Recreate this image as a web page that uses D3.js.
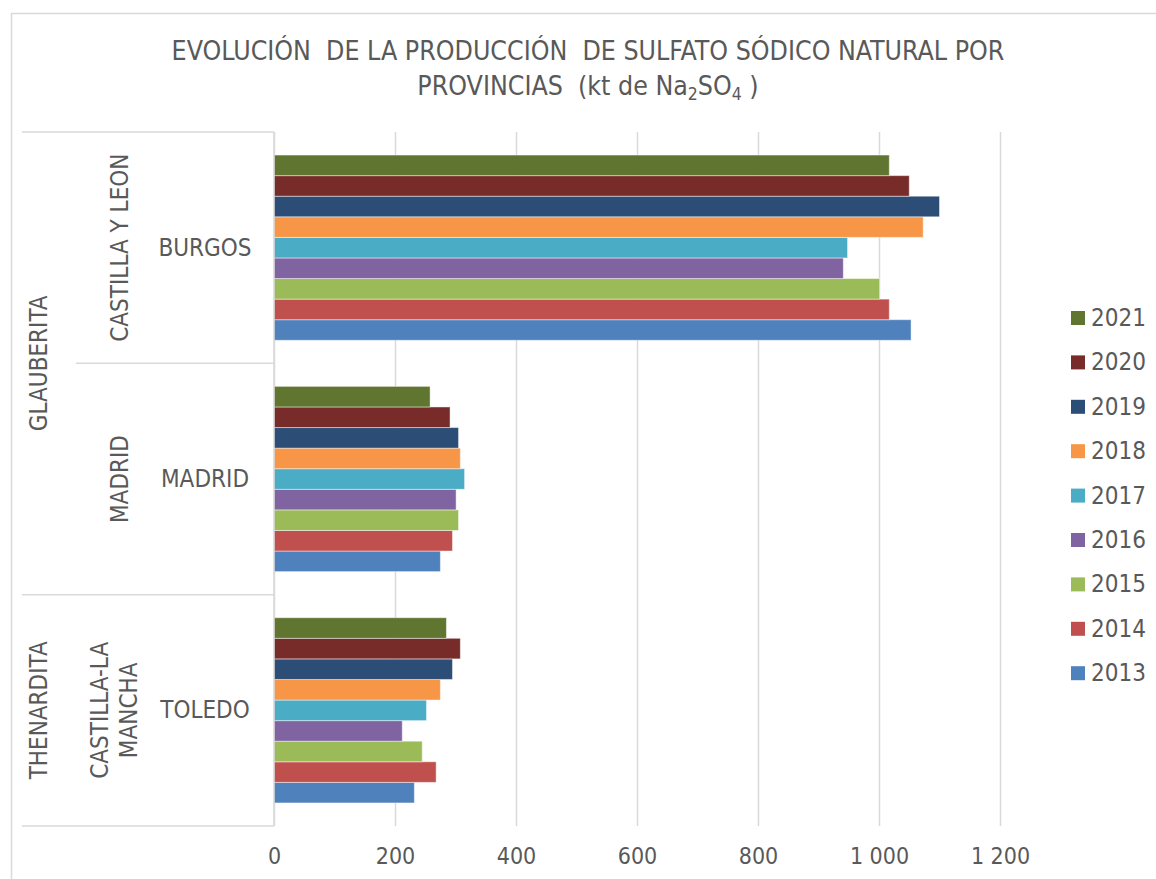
<!DOCTYPE html>
<html>
<head>
  <meta charset="utf-8">
  <title>Sulfato sódico natural</title>
  <style>
    body { margin: 0; background: #ffffff; }
    text { font-family: "DejaVu Sans Condensed", "DejaVu Sans", sans-serif; fill: #595959; }
  </style>
</head>
<body>
  <svg></svg>
  <script src="https://cdnjs.cloudflare.com/ajax/libs/d3/7.8.5/d3.min.js"></script>
  <script>
    // data (kt de Na2SO4)
    var years = ["2013", "2014", "2015", "2016", "2017", "2018", "2019", "2020", "2021"];
    var provinces = ["BURGOS", "MADRID", "TOLEDO"];
    var regions = ["CASTILLA Y LEON", "MADRID", "CASTILLA-LA MANCHA"];
    var minerals = ["GLAUBERITA", "THENARDITA"];
    var mineralSpan = [2, 1];   // provinces per mineral
    var burgos = [1053, 1017, 1001, 941, 948, 1073, 1100, 1050, 1017];
    var madrid = [275, 295, 305, 301, 315, 308, 305, 291, 258];
    var toledo = [232, 268, 245, 212, 252, 275, 295, 308, 285];
    var xTicks = [0, 200, 400, 600, 800, 1000, 1200];
    var colors = ["#4F81BD", "#C0504D", "#9BBB59", "#8064A2", "#4BACC6", "#F79646", "#2C4D75", "#772C2A", "#5F7530"];

    var values = { BURGOS: burgos, MADRID: madrid, TOLEDO: toledo };

    var width = 1156, height = 879;
    var svg = d3.select("svg").attr("width", width).attr("height", height);

    // chart frame
    svg.append("rect")
      .attr("x", 11.5).attr("y", 13.5)
      .attr("width", 1160).attr("height", 900)
      .attr("fill", "none").attr("stroke", "#d9d9d9").attr("stroke-width", 1.5);

    var x = d3.scaleLinear().domain([0, 1200]).range([274, 1000]);
    var y = d3.scaleBand().domain(provinces).range([132, 826]);
    var yInner = d3.scaleBand().domain(years.slice().reverse())
      .range([0, y.bandwidth()]).paddingOuter(1.12);
    var color = d3.scaleOrdinal().domain(years).range(colors);

    // gridlines + tick labels
    var fmt = d3.formatLocale({ decimal: ",", thousands: "\u00a0", grouping: [3], currency: ["", ""] }).format(",d");
    var xAxis = svg.append("g")
      .attr("transform", "translate(0,826)")
      .call(d3.axisBottom(x).tickValues(xTicks).tickSize(-694).tickPadding(22).tickFormat(fmt));
    xAxis.select(".domain").remove();
    xAxis.selectAll("line").attr("stroke", "#d9d9d9").attr("stroke-width", 1.5);
    xAxis.selectAll("text").attr("font-size", 23).attr("fill", "#595959")
      .attr("font-family", "'DejaVu Sans Condensed', 'DejaVu Sans', sans-serif");

    // bars
    var groups = svg.selectAll("g.prov").data(provinces).enter().append("g")
      .attr("class", "prov")
      .attr("transform", function (d) { return "translate(0," + y(d) + ")"; });

    groups.selectAll("rect")
      .data(function (p) { return years.map(function (yr, i) { return { year: yr, value: values[p][i] }; }); })
      .enter().append("rect")
      .attr("x", x(0))
      .attr("y", function (d) { return yInner(d.year); })
      .attr("width", function (d) { return x(d.value) - x(0); })
      .attr("height", yInner.bandwidth())
      .attr("fill", function (d) { return color(d.year); })
      .attr("stroke", "#ffffff").attr("stroke-opacity", 0.45).attr("stroke-width", 1);

    // category axis line and separators
    var catLine = "#d9d9d9";
    svg.append("line").attr("x1", 274).attr("x2", 274).attr("y1", 132).attr("y2", 826)
      .attr("stroke", catLine).attr("stroke-width", 1.5);
    var seps = [
      { y: y.range()[0], x1: 22 },
      { y: y("MADRID"), x1: 76 },
      { y: y("TOLEDO"), x1: 22 },
      { y: y.range()[1], x1: 22 }
    ];
    svg.selectAll("line.sep").data(seps).enter().append("line")
      .attr("class", "sep")
      .attr("x1", function (d) { return d.x1; }).attr("x2", 274)
      .attr("y1", function (d) { return d.y; }).attr("y2", function (d) { return d.y; })
      .attr("stroke", catLine).attr("stroke-width", 1.5);

    // province labels
    svg.selectAll("text.prov").data(provinces).enter().append("text")
      .attr("class", "prov")
      .attr("x", 205)
      .attr("y", function (d) { return y(d) + y.bandwidth() / 2; })
      .attr("text-anchor", "middle").attr("dominant-baseline", "central")
      .attr("font-size", 24)
      .text(function (d) { return d; });

    // region labels (rotated)
    regions.forEach(function (r, i) {
      var cy = y(provinces[i]) + y.bandwidth() / 2;
      var lines = r === "CASTILLA-LA MANCHA" ? ["CASTILLA-LA", "MANCHA"] : [r];
      var cx = lines.length > 1 ? 114 : 120;
      var t = svg.append("text")
        .attr("transform", "translate(" + cx + "," + cy + ") rotate(-90)")
        .attr("text-anchor", "middle").attr("font-size", 24);
      lines.forEach(function (l, j) {
        var off = (j - (lines.length - 1) / 2) * 29;
        t.append("tspan").attr("x", 0).attr("y", off)
          .attr("dy", "0.35em").text(l);
      });
    });

    // mineral labels (rotated)
    var start = 0;
    minerals.forEach(function (m, i) {
      var top = y(provinces[start]);
      var bottom = y(provinces[start + mineralSpan[i] - 1]) + y.bandwidth();
      start += mineralSpan[i];
      svg.append("text")
        .attr("transform", "translate(39," + ((top + bottom) / 2) + ") rotate(-90)")
        .attr("text-anchor", "middle").attr("dominant-baseline", "central")
        .attr("font-size", 24)
        .text(m);
    });

    // legend
    var legend = svg.selectAll("g.leg").data(years.slice().reverse()).enter().append("g")
      .attr("class", "leg")
      .attr("transform", function (d, i) { return "translate(1071," + (318 + i * 44.4) + ")"; });
    legend.append("rect").attr("x", 0).attr("y", -7).attr("width", 14).attr("height", 14)
      .attr("fill", function (d) { return color(d); });
    legend.append("text").attr("x", 20).attr("y", 0).attr("dominant-baseline", "central")
      .attr("font-size", 24).text(function (d) { return d; });

    // title
    var title = svg.append("text").attr("text-anchor", "middle").attr("font-size", 26.5);
    title.append("tspan").attr("x", 588).attr("y", 60)
      .text("EVOLUCIÓN\u00a0 DE LA PRODUCCIÓN\u00a0 DE SULFATO SÓDICO NATURAL POR");
    var l2 = title.append("tspan").attr("x", 588).attr("y", 95);
    l2.text("PROVINCIAS\u00a0 (kt de Na");
    title.append("tspan").attr("font-size", 17.5).attr("dy", 5).text("2");
    title.append("tspan").attr("dy", -5).text("SO");
    title.append("tspan").attr("font-size", 17.5).attr("dy", 5).text("4");
    title.append("tspan").attr("dy", -5).text("\u00a0)");
  </script>
</body>
</html>
